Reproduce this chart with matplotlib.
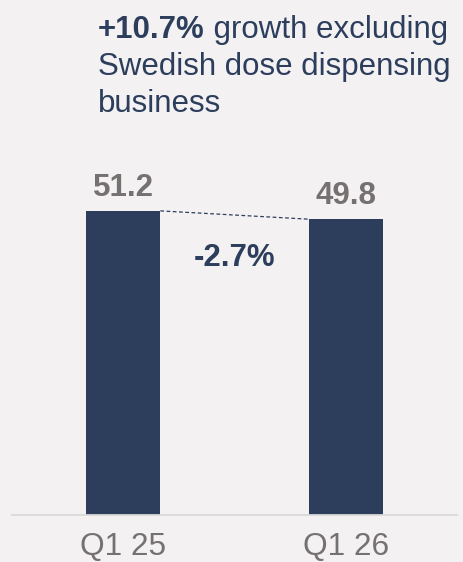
import matplotlib.pyplot as plt

plt.rcParams['font.family'] = ['Liberation Sans', 'DejaVu Sans']

quarters = ['Q1 25', 'Q1 26']
values = [51.2, 49.8]
change_label = '-2.7%'
growth_bold = '+10.7%'
growth_rest = ' growth excluding'
growth_lines = ['Swedish dose dispensing', 'business']

bg = '#F3F1F2'
navy = '#2C3E5C'
grey = '#767171'

fig = plt.figure(figsize=(4.64, 5.62), dpi=100, facecolor=bg)
ax = fig.add_axes([12 / 464, 47 / 562, 445 / 464, 515 / 562])
ax.set_facecolor(bg)

x = range(len(values))
width = 0.333
bars = ax.bar(x, values, width=width, color=navy)

ax.set_xlim(-0.5, 1.5)
ax.set_ylim(0, 515 / 5.94)

# value labels above bars
for i, v in enumerate(values):
    ax.annotate('{:.1f}'.format(v), (i, v), xytext=(0, 11), textcoords='offset points',
                ha='center', va='baseline', fontsize=22.5, fontweight='bold', color=grey)

# dashed connector between bar tops
ax.plot([0 + width / 2, 1 - width / 2], values, color=navy, lw=0.9, ls=(0, (3, 2)))

# change label between bars
ax.text(0.5, 43.3, change_label, ha='center', va='center',
        fontsize=22.5, fontweight='bold', color=navy)

# axes styling
for s in ['top', 'right', 'left']:
    ax.spines[s].set_visible(False)
ax.spines['bottom'].set_color('#D9D9D9')
ax.spines['bottom'].set_linewidth(1.3)
ax.set_yticks([])
ax.set_xticks(list(x))
ax.set_xticklabels(quarters, fontsize=22.8, color=grey)
ax.tick_params(axis='x', length=0, pad=12)

# header text
t1 = fig.text(98 / 464, 1 - 38 / 562, growth_bold, ha='left', va='baseline',
              fontsize=22.5, fontweight='bold', color=navy)
t2 = fig.text(0, 1 - 38 / 562, growth_rest, ha='left', va='baseline', fontsize=22.5,
              color=navy)
fig.canvas.draw()
bb = t1.get_window_extent(fig.canvas.get_renderer())
t2.set_x(bb.x1 / fig.bbox.width)
for k, line in enumerate(growth_lines):
    fig.text(98 / 464, 1 - (75 + 37.5 * k) / 562, line, ha='left', va='baseline',
             fontsize=22.5, color=navy)

fig.savefig('out.png', dpi=100, facecolor=bg)
